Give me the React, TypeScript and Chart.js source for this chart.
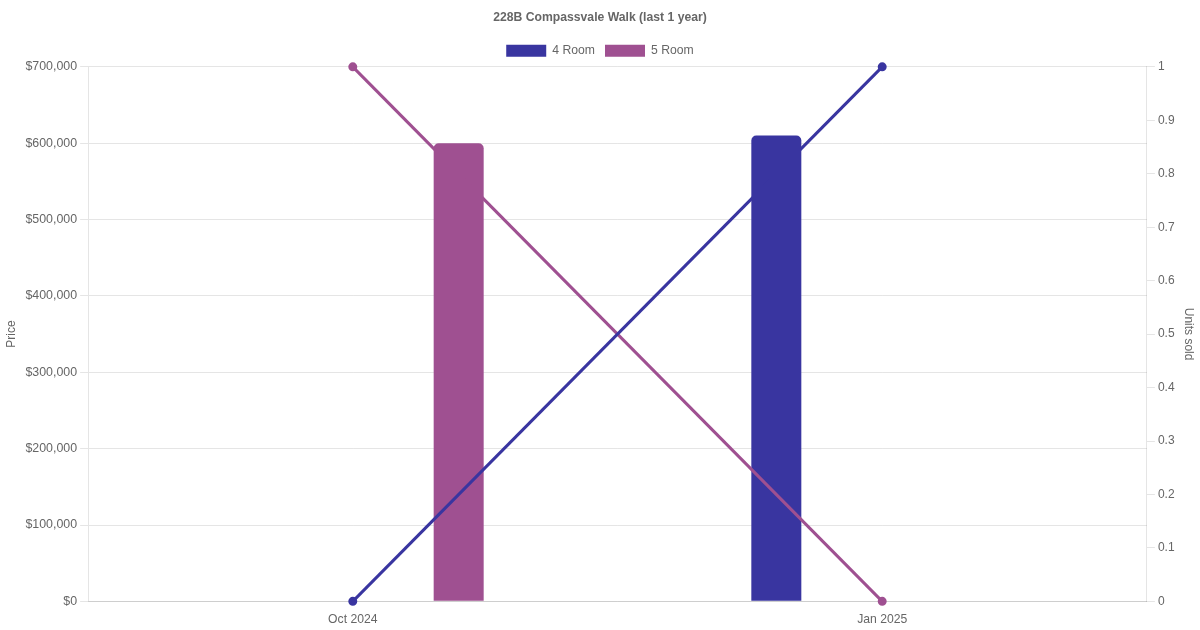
import React, { useEffect, useRef } from "react";
import { Chart, registerables } from "chart.js";

Chart.register(...registerables);

const categories = ["Oct 2024", "Jan 2025"];
const price4Room = [null, 610000];
const price5Room = [600000, null];
const units4Room = [0, 1];
const units5Room = [1, 0];
const color4Room = "rgb(57, 53, 160)";
const color5Room = "rgb(159, 80, 145)";

export default function App() {
  const ref = useRef<HTMLCanvasElement | null>(null);

  useEffect(() => {
    if (!ref.current) return;
    Chart.defaults.font.size = 12;
    Chart.defaults.color = "#666";
    const chart = new Chart(ref.current, {
      type: "bar",
      data: {
        labels: categories,
        datasets: [
          {
            type: "bar",
            label: "4 Room",
            data: price4Room as any,
            backgroundColor: color4Room,
            borderColor: color4Room,
            borderRadius: 5,
            maxBarThickness: 50,
            yAxisID: "y",
            order: 2,
          },
          {
            type: "bar",
            label: "5 Room",
            data: price5Room as any,
            backgroundColor: color5Room,
            borderColor: color5Room,
            borderRadius: 5,
            maxBarThickness: 50,
            yAxisID: "y",
            order: 2,
          },
          {
            type: "line",
            label: "4 Room units",
            data: units4Room,
            borderColor: color4Room,
            backgroundColor: color4Room,
            borderWidth: 3,
            pointRadius: 3,
            tension: 0,
            clip: false as any,
            yAxisID: "y1",
            order: 1,
          },
          {
            type: "line",
            label: "5 Room units",
            data: units5Room,
            borderColor: color5Room,
            backgroundColor: color5Room,
            borderWidth: 3,
            pointRadius: 3,
            tension: 0,
            clip: false as any,
            yAxisID: "y1",
            order: 1,
          },
        ],
      },
      options: {
        animation: false,
        responsive: true,
        maintainAspectRatio: false,
        plugins: {
          title: {
            display: true,
            text: "228B Compassvale Walk (last 1 year)",
            color: "#666",
            font: { size: 12.2, weight: "bold" },
          },
          legend: {
            labels: {
              color: "#666",
              font: { size: 12.2 },
              filter: (item: any) => item.datasetIndex < 2,
            },
          },
          tooltip: { enabled: false },
        },
        scales: {
          x: {
            grid: { display: false },
            ticks: { color: "#666", font: { size: 12.2 } },
          },
          y: {
            type: "linear",
            position: "left",
            min: 0,
            max: 700000,
            ticks: {
              stepSize: 100000,
              color: "#666",
              font: { size: 12.4 },
              callback: (v: any) => "$" + Number(v).toLocaleString("en-US"),
            },
            title: { display: true, text: "Price", color: "#666" },
          },
          y1: {
            type: "linear",
            position: "right",
            min: 0,
            max: 1,
            ticks: {
              stepSize: 0.1,
              color: "#666",
              callback: (v: any) => String(Math.round(Number(v) * 10) / 10),
            },
            grid: { drawOnChartArea: false },
            title: { display: true, text: "Units sold", color: "#666" },
          },
        },
      },
    });
    return () => chart.destroy();
  }, []);

  return (
    <div style={{ position: "fixed", left: 0, top: 0, width: 1200, height: 630 }}>
      <canvas ref={ref} />
    </div>
  );
}
